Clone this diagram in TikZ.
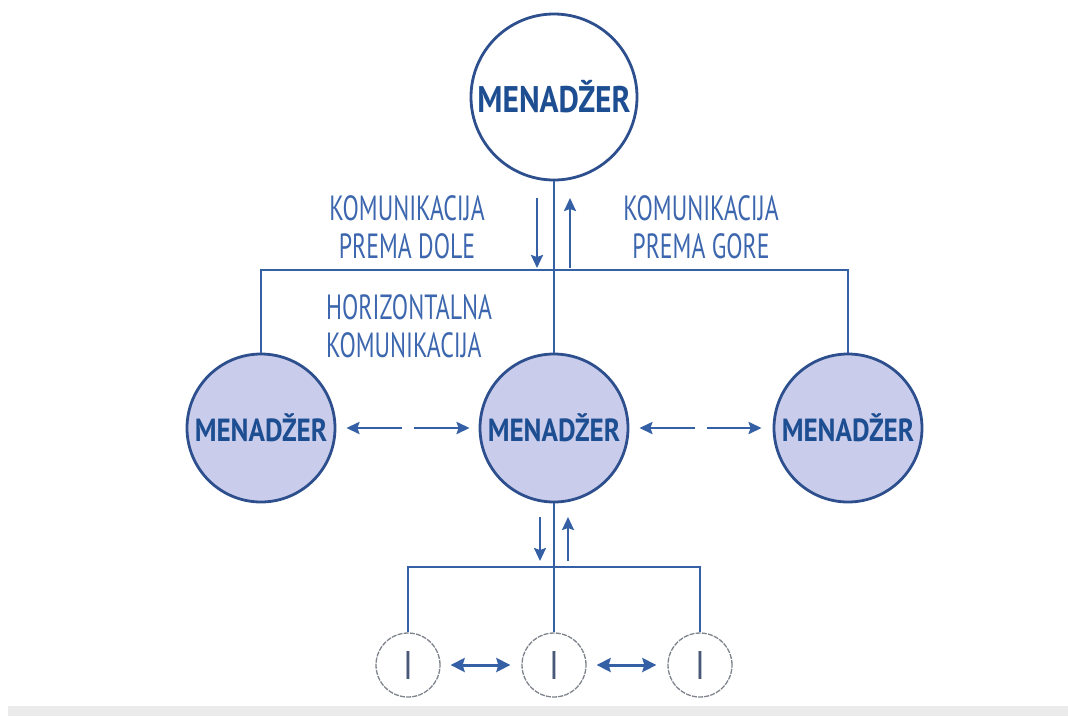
\documentclass[tikz,border=0pt]{standalone}
\usepackage{fontspec}
\setmainfont{PT Sans}[FakeStretch=0.85]
\newfontfamily\lblfont{PT Sans}[FakeStretch=0.68]
\usetikzlibrary{arrows.meta,calc}
\definecolor{lineblue}{HTML}{3560A6}
\definecolor{txtblue}{HTML}{3C66AE}
\definecolor{mgrblue}{HTML}{1E4E92}
\definecolor{fillblue}{HTML}{C9CDEB}
\definecolor{edgeblue}{HTML}{2E4F8E}
\definecolor{band}{HTML}{EBEBEB}
\definecolor{wgray}{HTML}{7E838C}
\definecolor{igray}{HTML}{4A5878}
\begin{document}
\begin{tikzpicture}[x=1pt,y=-1pt,
  conn/.style={draw=lineblue,line width=2.9pt},
  arr/.style={draw=lineblue,fill=lineblue,line width=2.2pt,-{Stealth[length=13pt,width=12pt,inset=2pt]}},
  darr/.style={draw=lineblue,line width=3pt,{Stealth[length=14pt,width=14pt,inset=2pt]}-{Stealth[length=14pt,width=14pt,inset=2pt]}},
  topmgr/.style={circle,draw=edgeblue,line width=2.8pt,fill=white,minimum size=166pt,inner sep=0pt,
    font=\fontsize{37}{40}\selectfont\bfseries,text=mgrblue},
  mgr/.style={circle,draw=edgeblue,line width=2.8pt,fill=fillblue,minimum size=148pt,inner sep=0pt,
    font=\fontsize{32}{34}\selectfont\bfseries,text=mgrblue},
  worker/.style={circle,draw=wgray,line width=1.3pt,dash pattern=on 5pt off 1.2pt,fill=white,minimum size=64pt,inner sep=0pt,
    font=\fontsize{40}{42}\selectfont,text=igray},
  lbl/.style={align=center,text=txtblue,font=\lblfont\fontsize{35}{38}\selectfont,inner sep=0pt}
]
\useasboundingbox (0,0) rectangle (1068,716);
\fill[band] (8,706) rectangle (1068,716);

% nodes
\node[topmgr] (T) at (554,97) {MENADŽER};
\node[mgr] (L) at (261,428) {MENADŽER};
\node[mgr] (M) at (554,428) {MENADŽER};
\node[mgr] (R) at (848,428) {MENADŽER};
\node[worker] (W1) at (408,665) {I};
\node[worker] (W2) at (554,665) {I};
\node[worker] (W3) at (700,665) {I};

% labels
\node[lbl] (down) at (407,227) {KOMUNIKACIJA\\PREMA DOLE};
\node[lbl] (up) at (701,227) {KOMUNIKACIJA\\PREMA GORE};
\node[lbl,align=left,anchor=west] (hor) at (326,326) {HORIZONTALNA\\KOMUNIKACIJA};

% bus lines
\coordinate (bus) at (554,270);
\coordinate (bus2) at (554,567);
\draw[conn] (T.south) -- (M.north);
\draw[conn] (L.north) |- (bus) -| (R.north);
\draw[conn] (M.south) -- (W2.north);
\draw[conn] (W1.north) |- (bus2) -| (W3.north);

% vertical arrows
\coordinate (d1s) at (537,198); \coordinate (d1e) at (537,268);
\coordinate (u1s) at (570,268); \coordinate (u1e) at (570,198);
\draw[arr] (d1s) -- (d1e);
\draw[arr] (u1s) -- (u1e);
\coordinate (d2s) at (540,517); \coordinate (d2e) at (540,561);
\coordinate (u2s) at (568,561); \coordinate (u2e) at (568,517);
\draw[arr] (d2s) -- (d2e);
\draw[arr] (u2s) -- (u2e);

% horizontal manager arrows (with gap)
\coordinate (g1) at ($(L.east)!0.5!(M.west)$);
\coordinate (g2) at ($(M.east)!0.5!(R.west)$);
\draw[arr,line width=2.8pt,shorten >=10pt] ([xshift=-6pt]g1) -- (L.east);
\draw[arr,line width=2.8pt,shorten >=9pt] ([xshift=6pt]g1) -- (M.west);
\draw[arr,line width=2.8pt,shorten >=10pt] ([xshift=-6pt]g2) -- (M.east);
\draw[arr,line width=2.8pt,shorten >=11pt] ([xshift=6pt]g2) -- (R.west);

% worker arrows
\draw[darr,shorten <=10pt,shorten >=11pt] (W1.east) -- (W2.west);
\draw[darr,shorten <=10pt,shorten >=11pt] (W2.east) -- (W3.west);
\end{tikzpicture}
\end{document}
